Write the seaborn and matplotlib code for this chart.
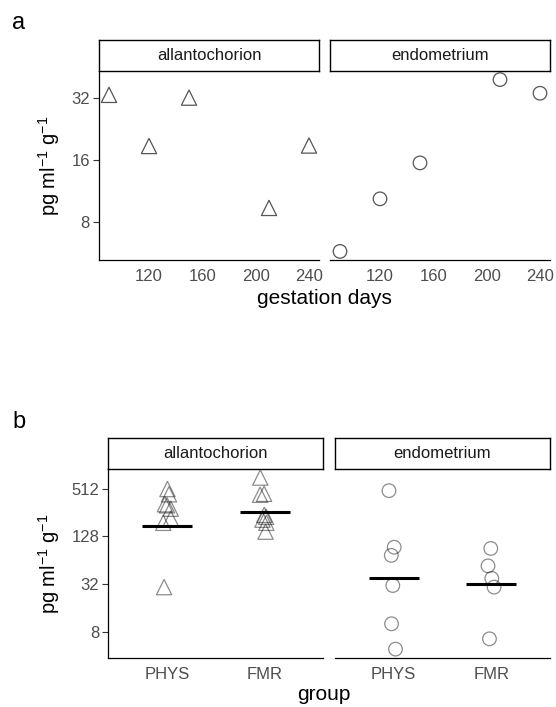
import numpy as np
import pandas as pd
import matplotlib.pyplot as plt
import seaborn as sns
from matplotlib.ticker import FixedLocator, NullLocator, FixedFormatter

# --- data ---
tissues = ["allantochorion", "endometrium"]
days = [90, 120, 150, 210, 240]
allanto_days = [33.0, 18.7, 32.0, 9.4, 18.8]
endo_days = [5.8, 10.4, 15.5, 39.1, 33.6]

groups = ["PHYS", "FMR"]
allanto_phys = [505, 434, 325, 315, 286, 215, 190, 29.5]
allanto_fmr = [704, 440, 428, 239, 226, 208, 190, 147]
endo_phys = [482, 93.7, 74, 30.9, 10.2, 4.9]
endo_fmr = [90.4, 54.6, 38, 29.5, 6.6]
# centre lines drawn in panel b
line_allanto = [175, 263]
line_endo = [38.5, 32.4]

top = pd.DataFrame({
    "day": days * 2,
    "value": allanto_days + endo_days,
    "tissue": ["allantochorion"] * 5 + ["endometrium"] * 5,
})
bottom = pd.DataFrame({
    "group": ["PHYS"] * len(allanto_phys) + ["FMR"] * len(allanto_fmr)
             + ["PHYS"] * len(endo_phys) + ["FMR"] * len(endo_fmr),
    "value": allanto_phys + allanto_fmr + endo_phys + endo_fmr,
    "tissue": ["allantochorion"] * (len(allanto_phys) + len(allanto_fmr))
              + ["endometrium"] * (len(endo_phys) + len(endo_fmr)),
})
lines = {"allantochorion": line_allanto, "endometrium": line_endo}

sns.set_style("white")
plt.rcParams["font.family"] = ["Liberation Sans", "DejaVu Sans"]
plt.rcParams["mathtext.fontset"] = "custom"
plt.rcParams["mathtext.rm"] = "Liberation Sans"
plt.rcParams["mathtext.it"] = "Liberation Sans:italic"
plt.rcParams["text.color"] = "black"
plt.rcParams["axes.labelcolor"] = "black"

W, H = 556, 707
fig = plt.figure(figsize=(W / 100, H / 100), dpi=100)


def box(x0, x1, y0, y1):
    # pixel box -> figure fraction
    return [x0 / W, 1 - y1 / H, (x1 - x0) / W, (y1 - y0) / H]


def log_limits(vals):
    lo, hi = np.log2(min(vals)), np.log2(max(vals))
    pad = 0.05 * (hi - lo)
    return 2 ** (lo - pad), 2 ** (hi + pad)


def style_panel(ax, first):
    for s in ["top", "right"]:
        ax.spines[s].set_visible(False)
    ax.spines["bottom"].set_linewidth(0.9)
    ax.spines["left"].set_linewidth(0.9)
    ax.spines["bottom"].set_color("black")
    ax.spines["left"].set_color("black")
    ax.spines["left"].set_visible(first)
    ax.tick_params(axis="both", length=4, width=0.8, color="#333333",
                   labelsize=12, labelcolor="#4D4D4D", pad=2.5)
    ax.tick_params(axis="y", left=first, labelleft=first)
    ax.yaxis.set_minor_locator(NullLocator())
    ax.set_xlabel("")
    ax.set_ylabel("")


def strip(x0, x1, y0, y1, label):
    s = fig.add_axes(box(x0, x1, y0, y1))
    s.set_xticks([])
    s.set_yticks([])
    for sp in s.spines.values():
        sp.set_visible(True)
        sp.set_linewidth(1.0)
        sp.set_color("black")
    s.text(0.5, 0.5, label, ha="center", va="center", fontsize=12, color="#1A1A1A")


ylabel = "pg ml$^{-1}$ g$^{-1}$"

# --- panel a ---
xlo, xhi = min(days), max(days)
xpad = 0.05 * (xhi - xlo)
ylim_a = log_limits(top["value"])
a_boxes = [(99, 319), (330, 550)]
for i, (tissue, (x0, x1)) in enumerate(zip(tissues, a_boxes)):
    ax = fig.add_axes(box(x0, x1, 71, 260))
    ax.set_yscale("log", base=2)
    sub = top[top["tissue"] == tissue]
    sns.scatterplot(data=sub, x="day", y="value", ax=ax,
                    marker="^" if i == 0 else "o", s=120 if i == 0 else 95,
                    facecolor="none", edgecolor="#555555", linewidth=0.9)
    ax.set_xlim(xlo - xpad, xhi + xpad)
    ax.set_ylim(*ylim_a)
    ax.set_xticks([120, 160, 200, 240])
    ax.yaxis.set_major_locator(FixedLocator([8, 16, 32]))
    ax.yaxis.set_major_formatter(FixedFormatter(["8", "16", "32"]))
    style_panel(ax, i == 0)
    if i == 0:
        ax.set_ylabel(ylabel, fontsize=14.5)
        ax.yaxis.set_label_coords(-0.168, 0.5)
    strip(x0, x1, 40, 71, tissue)

fig.text(324 / W, 1 - 298 / H, "gestation days", ha="center", va="center", fontsize=15)
fig.text(19 / W, 1 - 23 / H, "a", ha="center", va="center", fontsize=17)

# --- panel b ---
np.random.seed(3)
ylim_b = log_limits(bottom["value"])
b_boxes = [(108.3, 323.3), (335, 550)]
for i, (tissue, (x0, x1)) in enumerate(zip(tissues, b_boxes)):
    ax = fig.add_axes(box(x0, x1, 469, 657.7))
    ax.set_yscale("log", base=2)
    sub = bottom[bottom["tissue"] == tissue]
    sns.stripplot(data=sub, x="group", y="value", order=groups, ax=ax,
                  jitter=0.05, marker="^" if i == 0 else "o",
                  size=11 if i == 0 else 9.8, linewidth=0.9)
    for coll in ax.collections:
        coll.set_facecolor("none")
        coll.set_edgecolor((0, 0, 0, 0.45))
    for j, level in enumerate(lines[tissue]):
        ax.hlines(level, j - 0.255, j + 0.255, color="black", lw=2.2, zorder=3)
    ax.set_xlim(-0.6, 1.6)
    ax.set_ylim(*ylim_b)
    ax.yaxis.set_major_locator(FixedLocator([8, 32, 128, 512]))
    ax.yaxis.set_major_formatter(FixedFormatter(["8", "32", "128", "512"]))
    style_panel(ax, i == 0)
    if i == 0:
        ax.set_ylabel(ylabel, fontsize=14.5)
        ax.yaxis.set_label_coords(-0.215, 0.5)
    strip(x0, x1, 437.7, 469, tissue)

fig.text(324 / W, 1 - 694 / H, "group", ha="center", va="center", fontsize=15)
fig.text(19 / W, 1 - 422 / H, "b", ha="center", va="center", fontsize=17)

fig.savefig("out.png", dpi=100)
